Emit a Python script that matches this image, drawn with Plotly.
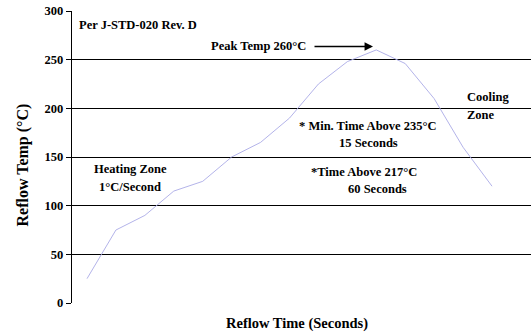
import plotly.graph_objects as go

# -------------------------------------------------------
# Data: reflow profile (sample index vs temperature)
# -------------------------------------------------------

time_idx = list(range(15))
temps = [25, 75, 90, 115, 125, 150, 165, 190, 225, 248, 260, 246, 210, 160, 120]
y_ticks = [0, 50, 100, 150, 200, 250, 300]

FONT = "Liberation Serif"

# plot area in pixels (for placing text)
L, R, T, B = 72, 531, 11, 303
X0, X1 = 87, 492  # pixel of first / last sample
XR = [-(X0 - L) / ((X1 - X0) / 14), (R - X0) / ((X1 - X0) / 14)]


def px(x):
    return (x - L) / (R - L)


def py(y):
    return (B - y) / (B - T)


fig = go.Figure()

fig.add_trace(
    go.Scatter(
        x=time_idx,
        y=temps,
        mode="lines",
        line=dict(color="#aaaae6", width=0.9),
        hoverinfo="skip",
    )
)

notes = [
    ("Per J-STD-020 Rev. D", 77, 25, "left"),
    ("Peak Temp 260°C", 308, 46, "right"),
    ("* Min. Time Above 235°C", 368, 126, "center"),
    ("15 Seconds", 368, 143, "center"),
    ("*Time Above 217°C", 364, 172, "center"),
    ("60 Seconds", 377, 189, "center"),
    ("Cooling", 465, 97, "left"),
    ("Zone", 465, 115, "left"),
    ("Heating Zone", 130, 169, "center"),
    ("1°C/Second", 130, 187, "center"),
]

annotations = []
for text, x, y, anchor in notes:
    annotations.append(dict(
        text=text, x=px(x), y=py(y), xref="paper", yref="paper",
        xanchor=anchor, yanchor="middle", showarrow=False,
        font=dict(family=FONT, size=12.5, color="black", weight="bold"),
    ))

# arrow to peak
annotations.append(dict(
    text="", x=px(373), y=py(46.5), xref="paper", yref="paper",
    ax=-60, ay=0,
    showarrow=True, arrowhead=2, arrowsize=1.3, arrowwidth=1.3,
    arrowcolor="black",
))

# axis titles
annotations.append(dict(
    text="Reflow Time (Seconds)", x=px(297), y=py(323), xref="paper",
    yref="paper", showarrow=False, xanchor="center", yanchor="middle",
    font=dict(family=FONT, size=14.5, color="black", weight="bold"),
))
annotations.append(dict(
    text="Reflow Temp (°C)", x=(22.5 - L) / (R - L), y=py(165), xref="paper",
    yref="paper", showarrow=False, textangle=-90, xanchor="center",
    yanchor="middle",
    font=dict(family=FONT, size=16, color="black", weight="bold"),
))

fig.update_layout(
    width=531,
    height=335,
    margin=dict(l=L, r=531 - R, t=T, b=335 - B),
    paper_bgcolor="white",
    plot_bgcolor="white",
    showlegend=False,
    annotations=annotations,
    xaxis=dict(
        range=XR,
        showticklabels=False,
        showgrid=False,
        zeroline=False,
        showline=False,
        ticks="",
    ),
    yaxis=dict(
        range=[0, 300],
        tickvals=y_ticks,
        showgrid=True,
        gridcolor="black",
        gridwidth=1.3,
        zeroline=False,
        showline=True,
        linecolor="black",
        linewidth=1.3,
        ticks="outside",
        ticklen=5,
        tickcolor="black",
        automargin=False,
        tickfont=dict(family=FONT, size=12.5, color="black", weight="bold"),
    ),
)

fig.write_html(
    "out.html",
    config={"displayModeBar": False},
    post_script="document.body.style.margin='0';"
                "document.body.style.overflow='hidden';",
)
